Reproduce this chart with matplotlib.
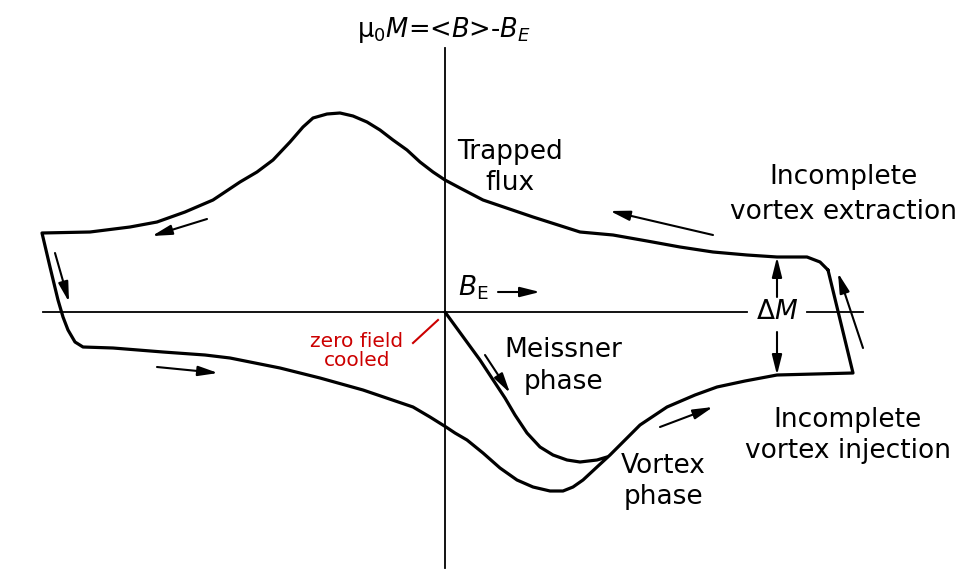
import matplotlib
matplotlib.use("Agg")
import matplotlib.pyplot as plt

plt.rcParams['font.family'] = ['DejaVu Sans']
plt.rcParams['mathtext.fontset'] = 'dejavusans'

# Hysteresis loop (field B_E, magnetization M), schematic units
upper_B = [383, 375, 362, 332, 302, 268, 235, 202, 168, 135, 88, 38, 15, 0, -12, -25, -38, -52,
           -65, -78, -92, -105, -118, -132, -142, -155, -172, -188, -205, -232, -260, -288,
           -315, -355, -403]
upper_M = [42, 50, 55, 55, 57, 60, 65, 71, 77, 80, 95, 112, 124, 132, 140, 150, 162, 172,
           182, 190, 196, 199, 198, 194, 185, 170, 152, 140, 130, 112, 100, 90,
           85, 80, 79]
left_B = [-395, -387, -382, -377, -370, -362]
left_M = [45, 12, -5, -18, -30, -35]
lower_B = [-332, -282, -240, -215, -195, -165, -125, -82, -32, -15, 1, 10, 22, 38, 55, 72, 88,
           105, 118, 128, 138, 152, 165, 182, 195, 222, 250, 272, 300, 332, 370, 408, 383]
lower_M = [-36, -40, -43, -46, -50, -56, -66, -78, -95, -105, -115, -121, -128, -141, -156,
           -168, -175, -179, -179, -175, -168, -155, -143, -126, -113, -95, -83, -75, -69, -63,
           -62, -61, 42]

# Virgin (zero-field-cooled) Meissner branch
virgin_B = [0, 35, 60, 70, 82, 95, 108, 122, 135, 152, 162]
virgin_M = [0, -48, -86, -103, -121, -135, -143, -148, -150, -148, -145]

# Direction arrows: (tail_B, tail_M, head_B, head_M)
arrows = [
    (268, 77, 165, 101),
    (-238, 93, -293, 76),
    (-390, 59, -376, 10),
    (-288, -55, -227, -61),
    (40, -43, 65, -81),
    (215, -115, 268, -95),
    (418, -36, 393, 39),
    (53, 20, 95, 20),
]
dM_B = 332
dM_top, dM_bot = 55, -63

fig = plt.figure(figsize=(9.74, 5.78), dpi=100)
ax = fig.add_axes([0, 0, 1, 1])
ax.set_xlim(-445, 529)
ax.set_ylim(-266, 312)
ax.axis('off')

# axes
ax.plot([-402, 302], [0, 0], color='black', lw=1.3)
ax.plot([362, 418], [0, 0], color='black', lw=1.3)
ax.plot([0, 0], [-256, 264], color='black', lw=1.3)

loop_B = upper_B + left_B + lower_B
loop_M = upper_M + left_M + lower_M
ax.plot(loop_B, loop_M, color='black', lw=2.3, solid_joinstyle='round', solid_capstyle='round')
ax.plot(virgin_B, virgin_M, color='black', lw=2.3, solid_joinstyle='round', solid_capstyle='round')

aprops = dict(arrowstyle='-|>,head_length=0.8,head_width=0.2', color='black', lw=1.5,
              shrinkA=0, shrinkB=0, mutation_scale=15)
for tb, tm, hb, hm in arrows:
    ax.annotate('', xy=(hb, hm), xytext=(tb, tm), arrowprops=aprops)

ax.annotate('', xy=(dM_B, dM_top), xytext=(dM_B, 15), arrowprops=aprops)
ax.annotate('', xy=(dM_B, dM_bot), xytext=(dM_B, -20), arrowprops=aprops)

# zero field cooled pointer
ax.plot([-32, -7], [-31, -8], color='#cc0000', lw=1.5)

fs = 19
ax.text(-1, 282, r'μ$_0$$M$=<$B$>-$B_E$', fontsize=18.5, ha='center', va='center')
ax.text(65, 160, 'Trapped', fontsize=fs, ha='center', va='center')
ax.text(65, 129, 'flux', fontsize=fs, ha='center', va='center')
ax.text(398, 135, 'Incomplete', fontsize=fs, ha='center', va='center')
ax.text(398, 100, 'vortex extraction', fontsize=fs, ha='center', va='center')
ax.text(28, 24, r'$B_\mathrm{E}$', fontsize=fs, ha='center', va='center')
ax.text(dM_B, 0, r'$\Delta M$', fontsize=fs, ha='center', va='center')
ax.text(-88, -39, 'zero field\ncooled', fontsize=14.5, ha='center', va='center',
        color='#cc0000', linespacing=0.95)
ax.text(118, -38, 'Meissner', fontsize=fs, ha='center', va='center')
ax.text(118, -70, 'phase', fontsize=fs, ha='center', va='center')
ax.text(218, -154, 'Vortex', fontsize=fs, ha='center', va='center')
ax.text(218, -185, 'phase', fontsize=fs, ha='center', va='center')
ax.text(403, -108, 'Incomplete', fontsize=fs, ha='center', va='center')
ax.text(403, -139, 'vortex injection', fontsize=fs, ha='center', va='center')

fig.savefig('out.png', dpi=100)
